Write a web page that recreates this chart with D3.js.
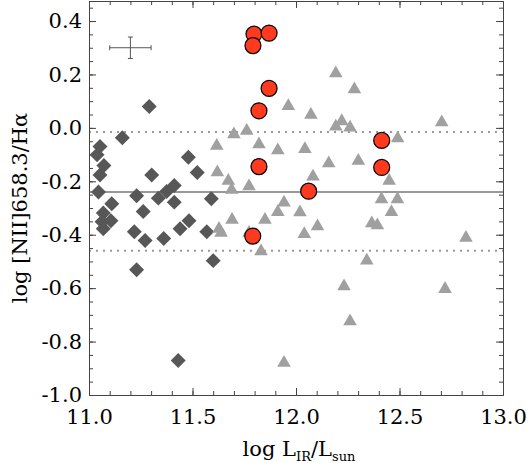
<!DOCTYPE html>
<meta charset="utf-8">

<script src="https://d3js.org/d3.v7.min.js"></script>

<div id="scatter"></div>

<style>
  body { margin: 0; background: white; }
  text { font-family: "DejaVu Serif", serif; fill: black; }
  .axis path, .axis line { stroke: #444; }
</style>

<script>
  // dark diamonds
  const diamondLIR = [11.291, 11.161, 11.053, 11.039, 11.072, 11.053, 11.046, 11.110, 11.069, 11.106,
    11.063, 11.069, 11.303, 11.480, 11.523, 11.230, 11.262, 11.335, 11.375, 11.412,
    11.412, 11.219, 11.271, 11.361, 11.440, 11.483, 11.569, 11.591, 11.230, 11.600, 11.431];
  const diamondN2 = [0.080, -0.037, -0.070, -0.101, -0.141, -0.176, -0.240, -0.284, -0.319, -0.348,
    -0.351, -0.378, -0.176, -0.110, -0.167, -0.254, -0.313, -0.263, -0.238, -0.216,
    -0.278, -0.389, -0.422, -0.414, -0.378, -0.348, -0.389, -0.265, -0.531, -0.497, -0.871];

  // light triangles
  const triLIR = [11.963, 12.072, 11.762, 11.700, 11.617, 11.821, 11.912, 12.043, 12.158, 11.620,
    11.673, 11.689, 11.773, 12.082, 11.942, 11.912, 12.019, 11.691, 11.850, 11.628,
    11.638, 11.773, 12.040, 12.104, 11.831, 11.942, 12.192, 12.282, 12.192, 12.221,
    12.261, 12.704, 12.491, 12.301, 12.450, 12.413, 12.490, 12.461, 12.366, 12.393,
    12.821, 12.342, 12.232, 12.720, 12.261];
  const triN2 = [0.082, 0.049, -0.011, -0.024, -0.067, -0.062, -0.084, -0.079, -0.133, -0.166,
    -0.198, -0.232, -0.219, -0.182, -0.280, -0.315, -0.316, -0.344, -0.344, -0.378,
    -0.393, -0.393, -0.398, -0.369, -0.462, -0.880, 0.204, 0.144, 0.005, 0.025,
    0.001, 0.021, -0.039, -0.123, -0.198, -0.267, -0.267, -0.315, -0.357, -0.365,
    -0.412, -0.497, -0.593, -0.603, -0.724];

  // red circles
  const circLIR = [11.797, 11.870, 11.792, 11.870, 11.821, 11.821, 12.061, 12.414, 12.414, 11.791];
  const circN2 = [0.351, 0.355, 0.308, 0.148, 0.064, -0.145, -0.237, -0.047, -0.148, -0.405];

  // mean and scatter lines
  const meanLine = -0.24;
  const scatterLines = [-0.015, -0.46];

  // typical error bar
  const errPoint = { x: 11.2, y: 0.3, dx: 0.1, dy: 0.04 };

  const xMajor = [11.0, 11.5, 12.0, 12.5, 13.0];
  const xMinor = d3.range(0, 21).map(i => 11 + i * 0.1);
  const yMajor = [-1.0, -0.8, -0.6, -0.4, -0.2, 0.0, 0.2, 0.4];
  const yMinor = d3.range(0, 30).map(i => -1 + i * 0.05);

  const margin = { top: 1, right: 25, bottom: 68, left: 89 },
    width = 528 - margin.left - margin.right,
    height = 463 - margin.top - margin.bottom;

  const svg = d3.select("#scatter")
    .append("svg")
    .attr("width", 528)
    .attr("height", 463)
    .append("g")
    .attr("transform", `translate(${margin.left},${margin.top})`);

  const x = d3.scaleLinear().domain([11, 13]).range([0, width]);
  const y = d3.scaleLinear().domain([-1.0, 0.475]).range([height, 0]);

  // horizontal reference lines
  svg.append("line")
    .attr("x1", 0).attr("x2", width)
    .attr("y1", y(meanLine)).attr("y2", y(meanLine))
    .style("stroke", "#999").style("stroke-width", 2);
  svg.selectAll(".scatline")
    .data(scatterLines)
    .join("line")
    .attr("class", "scatline")
    .attr("x1", 0).attr("x2", width)
    .attr("y1", d => y(d)).attr("y2", d => y(d))
    .style("stroke", "#999").style("stroke-width", 2)
    .style("stroke-dasharray", "2,5");

  // axes: labelled majors, minors, mirrored on top and right
  // plain hyphen for negatives, like the original
  const fmt = d => d.toFixed(1);
  svg.append("g").attr("class", "axis")
    .attr("transform", `translate(0,${height})`)
    .call(d3.axisBottom(x).tickValues(xMajor).tickSize(-7).tickSizeOuter(0).tickPadding(14).tickFormat(fmt))
    .call(g => g.selectAll("text").style("font-size", "21px"));
  svg.append("g").attr("class", "axis")
    .attr("transform", `translate(0,${height})`)
    .call(d3.axisBottom(x).tickValues(xMinor).tickSize(-4).tickSizeOuter(0).tickFormat(""));
  svg.append("g").attr("class", "axis")
    .call(d3.axisTop(x).tickValues(xMajor).tickSize(-7).tickSizeOuter(0).tickFormat(""));
  svg.append("g").attr("class", "axis")
    .call(d3.axisTop(x).tickValues(xMinor).tickSize(-4).tickSizeOuter(0).tickFormat(""));

  svg.append("g").attr("class", "axis")
    .call(d3.axisLeft(y).tickValues(yMajor).tickSize(-7).tickSizeOuter(0).tickPadding(7).tickFormat(fmt))
    .call(g => g.selectAll("text").style("font-size", "21px"));
  svg.append("g").attr("class", "axis")
    .call(d3.axisLeft(y).tickValues(yMinor).tickSize(-4).tickSizeOuter(0).tickFormat(""));
  svg.append("g").attr("class", "axis")
    .attr("transform", `translate(${width},0)`)
    .call(d3.axisRight(y).tickValues(yMajor).tickSize(-7).tickSizeOuter(0).tickFormat(""));
  svg.append("g").attr("class", "axis")
    .attr("transform", `translate(${width},0)`)
    .call(d3.axisRight(y).tickValues(yMinor).tickSize(-4).tickSizeOuter(0).tickFormat(""));

  // error bar cross
  const eb = svg.append("g").style("stroke", "#555").style("stroke-width", 1);
  eb.append("line")
    .attr("x1", x(errPoint.x - errPoint.dx)).attr("x2", x(errPoint.x + errPoint.dx))
    .attr("y1", y(errPoint.y)).attr("y2", y(errPoint.y));
  eb.append("line")
    .attr("x1", x(errPoint.x)).attr("x2", x(errPoint.x))
    .attr("y1", y(errPoint.y - errPoint.dy)).attr("y2", y(errPoint.y + errPoint.dy));
  [errPoint.x - errPoint.dx, errPoint.x + errPoint.dx].forEach(v => {
    eb.append("line").attr("x1", x(v)).attr("x2", x(v))
      .attr("y1", y(errPoint.y) - 2.5).attr("y2", y(errPoint.y) + 2.5);
  });
  [errPoint.y - errPoint.dy, errPoint.y + errPoint.dy].forEach(v => {
    eb.append("line").attr("y1", y(v)).attr("y2", y(v))
      .attr("x1", x(errPoint.x) - 2.5).attr("x2", x(errPoint.x) + 2.5);
  });

  // diamonds
  const diamonds = diamondLIR.map((d, i) => ({ x: d, y: diamondN2[i] }));
  svg.append("g")
    .selectAll("path")
    .data(diamonds)
    .join("path")
    .attr("d", d3.symbol(d3.symbolSquare, 112))
    .attr("transform", d => `translate(${x(d.x)},${y(d.y)}) rotate(45)`)
    .style("fill", "#575757");

  // triangles
  const triangles = triLIR.map((d, i) => ({ x: d, y: triN2[i] }));
  svg.append("g")
    .selectAll("path")
    .data(triangles)
    .join("path")
    .attr("d", d3.symbol(d3.symbolTriangle, 80))
    .attr("transform", d => `translate(${x(d.x)},${y(d.y)})`)
    .style("fill", "#a0a0a0");

  // circles
  const circles = circLIR.map((d, i) => ({ x: d, y: circN2[i] }));
  svg.append("g")
    .selectAll("circle")
    .data(circles)
    .join("circle")
    .attr("cx", d => x(d.x))
    .attr("cy", d => y(d.y))
    .attr("r", 8)
    .style("fill", "#ff3a1f")
    .style("stroke", "black")
    .style("stroke-width", 1.2);

  // axis titles
  const xt = svg.append("text")
    .attr("x", width / 2 + 3)
    .attr("y", height + 61)
    .attr("text-anchor", "middle")
    .style("font-size", "21px");
  xt.append("tspan").text("log L");
  xt.append("tspan").attr("dy", 5).style("font-size", "13px").text("IR");
  xt.append("tspan").attr("dy", -5).text("/L");
  xt.append("tspan").attr("dy", 5).style("font-size", "13px").text("sun");

  svg.append("text")
    .attr("transform", `translate(${-62},${y(-0.3)}) rotate(-90)`)
    .attr("text-anchor", "middle")
    .style("font-size", "21px")
    .text("log [NII]658.3/H\u03b1");
</script>
